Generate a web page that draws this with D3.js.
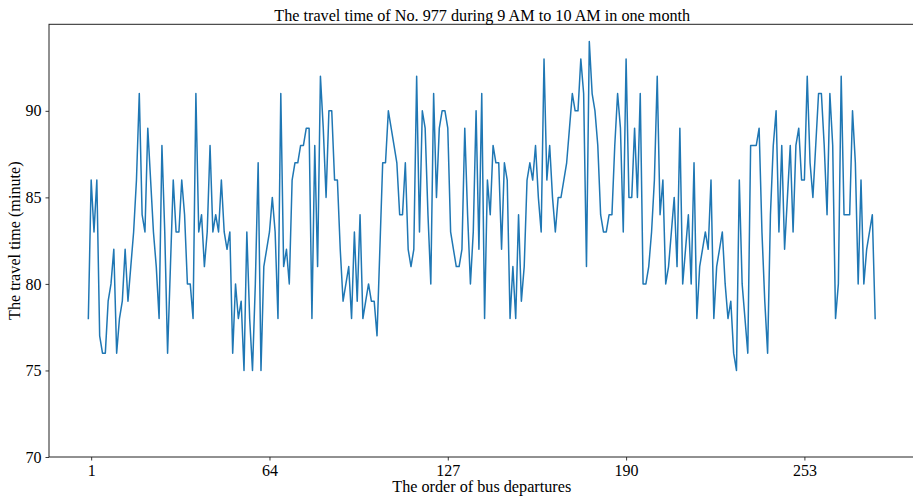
<!DOCTYPE html>
<html>
<head>
<meta charset="utf-8">
<script src="https://cdn.jsdelivr.net/npm/d3@7"></script>
<style>
  html, body { margin: 0; padding: 0; background: #fff; }
  svg { display: block; }
  text { font-family: "Liberation Serif", "DejaVu Serif", serif; fill: #000; }
</style>
</head>
<body>
<div id="chart"></div>
<script>
// Travel time (minutes) of bus No. 977 for each departure, 9–10 AM, one month
const travelTimes = [
  78, 86, 83, 86, 77, 76, 76, 79, 80, 82, 76, 78, 79, 82, 79, 81, 83, 86, 91, 84,
  83, 89, 86, 83, 81, 78, 88, 83, 76, 81, 86, 83, 83, 86, 84, 80, 80, 78, 91, 83,
  84, 81, 83, 88, 83, 84, 83, 86, 83, 82, 83, 76, 80, 78, 79, 75, 83, 78, 75, 80,
  87, 75, 81, 82, 83, 85, 83, 78, 91, 81, 82, 80, 86, 87, 87, 88, 88, 89, 89, 78,
  88, 81, 92, 89, 85, 90, 90, 86, 86, 82, 79, 80, 81, 78, 83, 79, 84, 78, 79, 80,
  79, 79, 77, 82, 87, 87, 90, 89, 88, 87, 84, 84, 87, 82, 81, 82, 92, 83, 90, 89,
  84, 80, 91, 85, 89, 90, 90, 89, 83, 82, 81, 81, 82, 89, 84, 80, 83, 90, 82, 91,
  78, 86, 84, 88, 87, 87, 82, 87, 86, 78, 81, 78, 84, 79, 81, 86, 87, 86, 88, 85,
  83, 93, 86, 88, 85, 83, 85, 85, 86, 87, 89, 91, 90, 90, 93, 91, 81, 94, 91, 90,
  88, 84, 83, 83, 84, 84, 88, 91, 89, 83, 93, 85, 85, 89, 85, 91, 80, 80, 81, 83,
  86, 92, 84, 86, 80, 81, 83, 85, 81, 89, 80, 82, 84, 80, 87, 78, 81, 82, 83, 82,
  86, 78, 81, 82, 83, 80, 78, 79, 76, 75, 86, 80, 78, 76, 88, 88, 88, 89, 83, 79,
  76, 84, 88, 90, 83, 88, 82, 85, 88, 83, 88, 89, 86, 86, 92, 87, 85, 88, 91, 91,
  88, 84, 91, 88, 78, 80, 92, 84, 84, 84, 90, 87, 80, 86, 80, 82, 83, 84, 78
];
// x positions are the zero-based sample index
const departureIndex = travelTimes.map((_, i) => i);
const xTickValues = [1, 64, 127, 190, 253];
const yTickValues = [70, 75, 80, 85, 90];

const titleText = "The travel time of No. 977 during 9 AM to 10 AM in one month";
const xLabelText = "The order of bus departures";
const yLabelText = "The travel time (minute)";

const W = 913, H = 498;
const plot = { left: 49, right: 914.5, top: 24.3, bottom: 457 };

const svg = d3.select("#chart").append("svg")
  .attr("width", W).attr("height", H);

const last = departureIndex[departureIndex.length - 1];
const pad = 0.05 * last;
const x = d3.scaleLinear()
  .domain([0 - pad, last + pad])
  .range([plot.left, plot.right]);
const y = d3.scaleLinear()
  .domain([70, 95])
  .range([plot.bottom, plot.top]);

// data line
const line = d3.line()
  .x((d, i) => x(departureIndex[i]))
  .y(d => y(d));

svg.append("path")
  .datum(travelTimes)
  .attr("d", line)
  .attr("fill", "none")
  .attr("stroke", "#1f77b4")
  .attr("stroke-width", 1.5)
  .attr("stroke-linejoin", "round")
  .attr("stroke-linecap", "square");

// frame
svg.append("rect")
  .attr("x", plot.left).attr("y", plot.top)
  .attr("width", plot.right - plot.left)
  .attr("height", plot.bottom - plot.top)
  .attr("fill", "none")
  .attr("stroke", "#222")
  .attr("stroke-width", 1);

// axes
const xAxis = d3.axisBottom(x)
  .tickValues(xTickValues)
  .tickSize(3.5)
  .tickPadding(4)
  .tickFormat(d3.format("d"));
const gx = svg.append("g")
  .attr("transform", `translate(0,${plot.bottom})`)
  .call(xAxis);

const yAxis = d3.axisLeft(y)
  .tickValues(yTickValues)
  .tickSize(3.5)
  .tickPadding(4)
  .tickFormat(d3.format("d"));
const gy = svg.append("g")
  .attr("transform", `translate(${plot.left},0)`)
  .call(yAxis);

[gx, gy].forEach(g => {
  g.select(".domain").remove();
  g.selectAll(".tick line").attr("stroke", "#222").attr("stroke-width", 0.9);
  g.selectAll(".tick text")
    .attr("font-family", "Liberation Serif")
    .attr("font-size", 16)
    .attr("fill", "#000");
});

// title and axis labels
svg.append("text")
  .attr("x", (plot.left + plot.right) / 2 + 0.5)
  .attr("y", 20.5)
  .attr("text-anchor", "middle")
  .attr("font-size", 16.2)
  .text(titleText);

svg.append("text")
  .attr("x", (plot.left + plot.right) / 2)
  .attr("y", 492)
  .attr("text-anchor", "middle")
  .attr("font-size", 16.2)
  .text(xLabelText);

svg.append("text")
  .attr("transform", `translate(20,${(plot.top + plot.bottom) / 2}) rotate(-90)`)
  .attr("text-anchor", "middle")
  .attr("font-size", 16.2)
  .text(yLabelText);
</script>
</body>
</html>
